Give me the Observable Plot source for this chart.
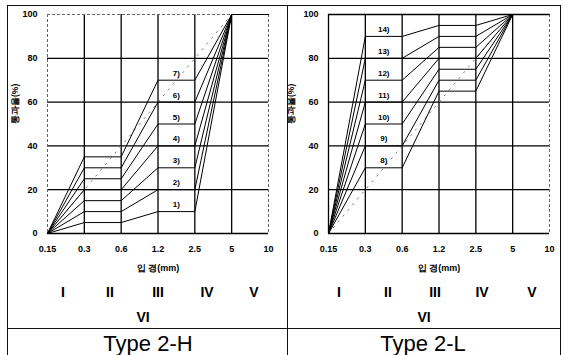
<!DOCTYPE html>
<html>
<head>
<meta charset="utf-8">
<script src="https://cdn.jsdelivr.net/npm/d3@7"></script>
<script src="https://cdn.jsdelivr.net/npm/@observablehq/plot@0.6"></script>
<style>
  html, body { margin: 0; padding: 0; background: #fff; }
  #page { position: relative; width: 565px; height: 355px; overflow: hidden; background: #fff; font-family: "Liberation Sans", Arial, sans-serif; }
  .ln { position: absolute; background: #111; }
  .panel { position: absolute; top: 0; }
  .rn { position: absolute; font-weight: bold; font-size: 14px; transform: translate(-50%, -50%); color: #000; }
  .ttl { position: absolute; font-size: 22px; transform: translate(-50%, -50%); color: #000; }
</style>
</head>
<body>
<div id="page"></div>
<script>
// ---- data ----
const sizes = ["0.15", "0.3", "0.6", "1.2", "2.5", "5", "10"];   // 입경 (mm)
const yTicks = [0, 20, 40, 60, 80, 100];

const hLabels = ["1)", "2)", "3)", "4)", "5)", "6)", "7)"];
const hValues = [
  [0, 5, 5, 10, 10, 100, 100],
  [0, 10, 10, 20, 20, 100, 100],
  [0, 15, 15, 30, 30, 100, 100],
  [0, 20, 20, 40, 40, 100, 100],
  [0, 25, 25, 50, 50, 100, 100],
  [0, 30, 30, 60, 60, 100, 100],
  [0, 35, 35, 70, 70, 100, 100]
];

const lLabels = ["8)", "9)", "10)", "11)", "12)", "13)", "14)"];
const lValues = [
  [0, 30, 30, 65, 65, 100, 100],
  [0, 40, 40, 70, 70, 100, 100],
  [0, 50, 50, 75, 75, 100, 100],
  [0, 60, 60, 80, 80, 100, 100],
  [0, 70, 70, 85, 85, 100, 100],
  [0, 80, 80, 90, 90, 100, 100],
  [0, 90, 90, 95, 95, 100, 100]
];

const refSizes = ["0.15", "5"];   // dotted reference line
const refValues = [0, 100];

const classes = ["I", "II", "III", "IV", "V"];
const classExtra = "VI";
const titles = ["Type 2-H", "Type 2-L"];
const yLabel = "통과율(%)";
const xLabel = "입 경(mm)";

// ---- drawing ----
const page = document.getElementById("page");
const idx = s => sizes.indexOf(s);

function panel(values, labels, labelSeg, opts) {
  const rows = [];
  values.forEach((vals, k) => vals.forEach((v, i) => rows.push({curve: labels[k], x: i, y: v})));
  const lab = values.map((vals, k) => ({text: labels[k], x: labelSeg + 0.5, y: vals[labelSeg]}));
  const ref = refSizes.map((s, i) => ({x: idx(s), y: refValues[i]}));
  const last = sizes.length - 1;
  const inner = d3.range(1, last);
  const dashFrame = "3,2";
  return Plot.plot({
    width: opts.width, height: 282,
    marginLeft: opts.ml, marginRight: opts.mr, marginTop: 14, marginBottom: 49,
    style: {fontFamily: "Liberation Sans, Arial, sans-serif", fontSize: "9px", fontWeight: "bold", background: "transparent", color: "#000"},
    x: {type: "linear", domain: [0, last], ticks: d3.range(0, sizes.length), tickFormat: i => sizes[i], tickSize: 0, tickPadding: 12, label: null},
    y: {domain: [0, 100], ticks: yTicks, tickSize: 0, tickPadding: 10, label: null},
    marks: [
      Plot.ruleX(inner, {stroke: "#000", strokeWidth: 1.3}),
      Plot.ruleY(yTicks.slice(1, -1), {stroke: "#000", strokeWidth: 1.3}),
      Plot.ruleY([0], {stroke: "#000", strokeWidth: 1.5}),
      Plot.ruleY([100], opts.dashTop ? {stroke: "#666", strokeDasharray: dashFrame} : {stroke: "#000", strokeWidth: 1.3}),
      Plot.ruleX([0], opts.dashLeft ? {stroke: "#666", strokeDasharray: dashFrame} : {stroke: "#000", strokeWidth: 1.3}),
      Plot.ruleX([last], {stroke: "#666", strokeDasharray: dashFrame}),
      Plot.line(ref, {x: "x", y: "y", stroke: "#777", strokeWidth: 1, strokeDasharray: "1.5,6"}),
      Plot.line(rows, {x: "x", y: "y", z: "curve", stroke: "#000", strokeWidth: 1}),
      Plot.text(lab, {x: "x", y: "y", text: "text", dy: -7, fontSize: 8, fontWeight: "bold"}),
      Plot.text([yLabel], {frameAnchor: "left", dx: opts.yLabDx, rotate: -90, fontSize: 8.5, fontWeight: "bold"}),
      Plot.text([xLabel], {frameAnchor: "bottom", dy: 37, fontSize: 9, fontWeight: "bold"})
    ]
  });
}

function addPanel(left, svg) {
  const d = document.createElement("div");
  d.className = "panel";
  d.style.left = left + "px";
  d.appendChild(svg);
  page.appendChild(d);
}

addPanel(0, panel(hValues, hLabels, 3, {width: 287, ml: 47, mr: 19, dashTop: true, dashLeft: true, yLabDx: -32}));
addPanel(287, panel(lValues, lLabels, 1, {width: 278, ml: 41, mr: 16, dashTop: false, dashLeft: false, yLabDx: -37}));

// roman numerals (class labels) and titles
const romanPos = [[63, 110, 158, 207, 254], [339, 388, 435, 482, 532]];
const extraPos = [143, 424];
const titlePos = [148, 423];
romanPos.forEach((xs, p) => {
  classes.forEach((c, i) => {
    const t = document.createElement("div");
    t.className = "rn"; t.textContent = c;
    t.style.left = xs[i] + "px"; t.style.top = "292px";
    page.appendChild(t);
  });
  const v = document.createElement("div");
  v.className = "rn"; v.textContent = classExtra;
  v.style.left = extraPos[p] + "px"; v.style.top = "317px";
  page.appendChild(v);
  const tt = document.createElement("div");
  tt.className = "ttl"; tt.textContent = titles[p];
  tt.style.left = titlePos[p] + "px"; tt.style.top = "344px";
  page.appendChild(tt);
});

// outer table frame
function line(x, y, w, h) {
  const l = document.createElement("div");
  l.className = "ln";
  Object.assign(l.style, {left: x + "px", top: y + "px", width: w + "px", height: h + "px"});
  page.appendChild(l);
}
line(7, 5, 554, 1);
line(7, 5, 1, 350);
line(560, 5, 1, 350);
line(287, 5, 1, 350);
line(7, 328, 554, 1);
</script>
</body>
</html>
